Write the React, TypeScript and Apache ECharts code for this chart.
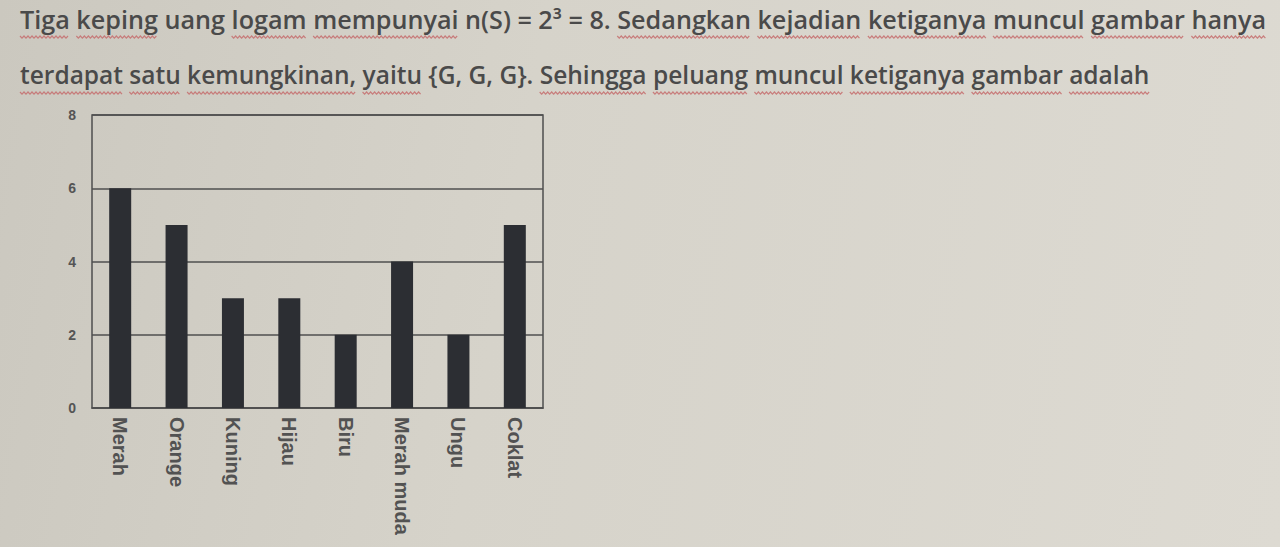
import React, { useEffect, useRef } from "react";
import * as echarts from "echarts";

const headerLines = [
  "Tiga keping uang logam mempunyai n(S) = 2³ = 8. Sedangkan kejadian ketiganya muncul gambar hanya",
  "terdapat satu kemungkinan, yaitu {G, G, G}. Sehingga peluang muncul ketiganya gambar adalah",
];
const flaggedWords = [
  ["Tiga", "keping", "logam", "mempunyai", "Sedangkan", "kejadian", "ketiganya", "muncul", "gambar", "hanya"],
  ["terdapat", "satu", "kemungkinan,", "yaitu", "Sehingga", "peluang", "muncul", "ketiganya", "gambar", "adalah"],
];
const categories = ["Merah", "Orange", "Kuning", "Hijau", "Biru", "Merah muda", "Ungu", "Coklat"];
const values = [6, 5, 3, 3, 2, 4, 2, 5];
const yTicks = { min: 0, max: 8, interval: 2 };

export default function App() {
  const ref = useRef<HTMLDivElement>(null);
  useEffect(() => {
    if (!ref.current) return;
    const chart = echarts.init(ref.current, null, { renderer: "svg" });
    const ink = "#4a4a4a";
    const lineCol = "#4f4f4f";
    const headFonts = ["600 25.2px 'Open Sans'", "600 24.5px 'Open Sans'"];
    const lineTops = [6, 62];
    const squiggleY = [36, 92];
    const ctx = document.createElement("canvas").getContext("2d")!;
    const squiggles: any[] = [];
    headerLines.forEach((line, li) => {
      ctx.font = headFonts[li];
      let from = 0;
      flaggedWords[li].forEach((w) => {
        const idx = line.indexOf(w, from);
        if (idx < 0) return;
        from = idx + w.length;
        const x0 = 20 + ctx.measureText(line.slice(0, idx)).width;
        const x1 = 20 + ctx.measureText(line.slice(0, idx + w.length)).width;
        const pts: number[][] = [];
        let k = 0;
        for (let x = x0; x <= x1; x += 2) {
          pts.push([x, squiggleY[li] + (k % 2 === 0 ? 0 : 2.2)]);
          k++;
        }
        squiggles.push({
          type: "polyline",
          silent: true,
          shape: { points: pts },
          style: { stroke: "#c66e6e", lineWidth: 1.2, fill: null, opacity: 0.85 },
        });
      });
    });
    chart.setOption({
      animation: false,
      backgroundColor: "transparent",
      graphic: [
        ...squiggles,
        {
          type: "text",
          left: 20,
          top: lineTops[0],
          style: { text: headerLines[0], fill: ink, font: headFonts[0] },
        },
        {
          type: "text",
          left: 20,
          top: lineTops[1],
          style: { text: headerLines[1], fill: ink, font: headFonts[1] },
        },
      ],
      grid: {
        left: 92,
        right: 737,
        top: 115,
        bottom: 139,
        show: true,
        borderColor: lineCol,
        borderWidth: 1.5,
        backgroundColor: "transparent",
      },
      xAxis: {
        type: "category",
        data: categories,
        axisLine: { show: true, lineStyle: { color: lineCol, width: 1.5 } },
        axisTick: { show: false },
        axisLabel: {
          rotate: -90,
          margin: 9,
          color: "#525252",
          fontSize: 20,
          fontWeight: "bold",
          fontFamily: "Liberation Sans",
          interval: 0,
        },
      },
      yAxis: {
        type: "value",
        min: yTicks.min,
        max: yTicks.max,
        interval: yTicks.interval,
        axisLine: { show: false },
        axisTick: { show: false },
        axisLabel: {
          margin: 16,
          color: "#555",
          fontSize: 14,
          fontWeight: "bold",
          fontFamily: "Liberation Sans",
        },
        splitLine: { show: true, lineStyle: { color: lineCol, width: 1.5 } },
      },
      series: [
        {
          type: "bar",
          data: values,
          barWidth: 22,
          itemStyle: { color: "#2c2e33" },
        },
      ],
    });
    return () => chart.dispose();
  }, []);
  return (
    <div
      style={{
        position: "fixed",
        left: 0,
        top: 0,
        width: 1280,
        height: 547,
        background: "linear-gradient(100deg, #cbc8bf 0%, #d6d3ca 40%, #dddad2 100%)",
      }}
    >
      <div ref={ref} style={{ width: 1280, height: 547 }} />
    </div>
  );
}
